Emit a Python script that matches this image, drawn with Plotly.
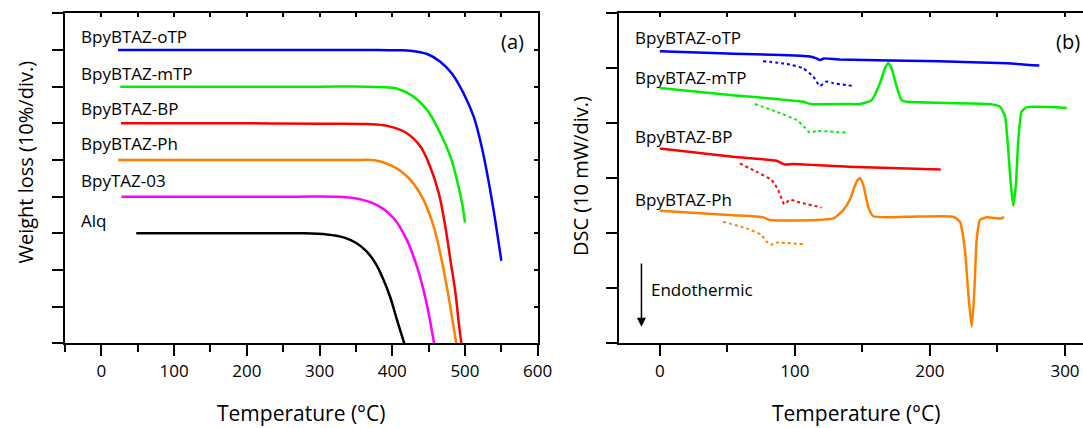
import plotly.graph_objects as go

# ---------------- Panel (a): TGA ----------------
tga_names = ["BpyBTAZ-oTP", "BpyBTAZ-mTP", "BpyBTAZ-BP", "BpyBTAZ-Ph", "BpyTAZ-03", "Alq"]
tga_colors = ["#0000ff", "#00ee00", "#ff0000", "#ff8000", "#ff00ff", "#000000"]
tga_offsets = [-20, -30, -40, -50, -60, -70]  # vertical stacking (10%/div.)

tga_oTP_T = [23, 100, 200, 300, 380, 410, 425, 448, 466, 482, 498, 512, 523, 533, 540, 550]
tga_oTP_W = [100, 100, 100, 100, 100, 99.9, 99.8, 98.9, 96.8, 93.6, 88.2, 81.8, 73.6, 63.6, 55.5, 42.5]
tga_mTP_T = [26, 100, 200, 300, 365, 390, 406, 429, 448, 466, 480, 489, 496, 500]
tga_mTP_W = [100, 100, 100, 100, 100, 99.8, 99.5, 97.3, 93.6, 87.3, 80.9, 74.5, 68.2, 62.9]
tga_BP_T = [27, 100, 200, 300, 365, 393, 420, 439, 452, 464, 473, 480, 487, 491, 495]
tga_BP_W = [100, 100, 100, 99.9, 99.8, 99.3, 97.3, 93.6, 88.2, 80.9, 71.8, 62.7, 53.6, 46.4, 40]
tga_Ph_T = [23, 100, 200, 300, 347, 379, 406, 427, 443, 457, 466, 475, 482, 488]
tga_Ph_W = [100, 100, 100, 100, 100, 99.8, 97.7, 94.1, 89.1, 81.8, 74.5, 65.4, 57.3, 50]
tga_03_T = [27.5, 100, 200, 270, 319, 351, 379, 402, 420, 434, 443, 450, 457.5]
tga_03_W = [100, 100, 100, 100, 100, 99.5, 97.7, 94.1, 88.2, 80.9, 74.5, 68.2, 60]
tga_Alq_T = [48, 100, 170, 230, 274, 310, 333, 351, 365, 377, 386, 397, 406.5, 416.5]
tga_Alq_W = [100, 100, 100, 100, 100, 99.7, 98.9, 97.3, 95.0, 91.8, 88.2, 82.7, 76.4, 70]

tga_T = [tga_oTP_T, tga_mTP_T, tga_BP_T, tga_Ph_T, tga_03_T, tga_Alq_T]
tga_W = [tga_oTP_W, tga_mTP_W, tga_BP_W, tga_Ph_W, tga_03_W, tga_Alq_W]
tga_label_y = [83.8, 73.6, 64.1, 54.4, 44.3, 33.6]

# ---------------- Panel (b): DSC ----------------
dsc_names = ["BpyBTAZ-oTP", "BpyBTAZ-mTP", "BpyBTAZ-BP", "BpyBTAZ-Ph"]
dsc_colors = ["#0000ff", "#00ee00", "#ff0000", "#ff8000"]

dsc_oTP_T = [0, 50, 110, 116, 118.5, 121.5, 133, 207, 257, 281]
dsc_oTP_D = [53.1, 52.7, 52.2, 51.8, 51.5, 51.8, 51.6, 51.3, 50.9, 50.5]
dsc_oTP_cool_T = [76.5, 94, 106, 113.6, 118.5, 123.5, 128.4, 142.7]
dsc_oTP_cool_D = [51.3, 50.8, 50.0, 48.5, 46.8, 47.6, 47.3, 46.8]

dsc_mTP_T = [0, 54, 106, 111.6, 139.5, 148, 156.8, 163, 166.7, 169.1, 171.6, 175.3, 179, 182.7,
             244.4, 251.9, 255.6, 258, 259.8, 261.7, 263.7, 265.4, 267.9, 271.6, 301.2]
dsc_mTP_D = [46.4, 45.1, 43.9, 43.5, 43.5, 43.5, 44.2, 47.3, 50.0, 50.9, 50.0, 46.7, 44.2, 43.9,
             43.5, 43.0, 41.2, 35.1, 29.1, 25.0, 29.1, 37.0, 42.1, 42.9, 42.8]
dsc_mTP_cool_T = [70.4, 86.4, 101.2, 106.7, 111.1, 116, 138.3]
dsc_mTP_cool_D = [43.5, 42.1, 40.6, 39.4, 38.3, 38.6, 38.3]

dsc_BP_T = [0, 54, 86.4, 92.6, 98.8, 139.5, 208]
dsc_BP_D = [35.4, 33.9, 33.2, 32.5, 32.6, 32.1, 31.6]
dsc_BP_cool_T = [59.3, 71.6, 82.7, 87.6, 92.1, 96.3, 103.7, 119.8]
dsc_BP_cool_D = [32.7, 31.2, 29.7, 27.9, 25.3, 26.1, 25.6, 24.7]

dsc_Ph_T = [0, 54, 76.5, 81.5, 116, 128.4, 135.8, 140.7, 145.7, 148.1, 150.6, 154.3, 158, 182.7,
            217.3, 222.2, 225.9, 228.4, 230.9, 232.8, 234.6, 237, 242, 253.1, 254.8]
dsc_Ph_D = [24.1, 23.3, 22.9, 22.4, 22.4, 22.7, 24.2, 26.1, 29.4, 30.0, 28.8, 24.8, 23.1, 23.0,
            23.0, 22.1, 17.0, 9.1, 3.0, 9.1, 18.8, 22.4, 22.9, 22.7, 23.0]
dsc_Ph_cool_T = [46.9, 64.2, 75.3, 79, 82, 86.4, 106.2]
dsc_Ph_cool_D = [22.1, 20.9, 19.7, 18.5, 17.9, 18.3, 18.0]

dsc_T = [dsc_oTP_T, dsc_mTP_T, dsc_BP_T, dsc_Ph_T]
dsc_D = [dsc_oTP_D, dsc_mTP_D, dsc_BP_D, dsc_Ph_D]
dsc_cool_T = [dsc_oTP_cool_T, dsc_mTP_cool_T, dsc_BP_cool_T, dsc_Ph_cool_T]
dsc_cool_D = [dsc_oTP_cool_D, dsc_mTP_cool_D, dsc_BP_cool_D, dsc_Ph_cool_D]
dsc_label_y = [55.6, 48.4, 37.6, 26.2]

FONT = "Open Sans"
fig = go.Figure()

for T, W, off, c in zip(tga_T, tga_W, tga_offsets, tga_colors):
    fig.add_trace(go.Scatter(x=T, y=[w + off for w in W], mode="lines",
                             line=dict(color=c, width=2.5, shape="spline", smoothing=1.0),
                             xaxis="x", yaxis="y", showlegend=False, cliponaxis=True))

for T, D, c in zip(dsc_T, dsc_D, dsc_colors):
    fig.add_trace(go.Scatter(x=T, y=D, mode="lines",
                             line=dict(color=c, width=2.5, shape="spline", smoothing=0.5),
                             xaxis="x2", yaxis="y2", showlegend=False))
for T, D, c in zip(dsc_cool_T, dsc_cool_D, dsc_colors):
    fig.add_trace(go.Scatter(x=T, y=D, mode="lines",
                             line=dict(color=c, width=2, dash="dot", shape="spline", smoothing=0.5),
                             xaxis="x2", yaxis="y2", showlegend=False))

# placeholder traces for mirror axes
fig.add_trace(go.Scatter(x=[None], y=[None], xaxis="x3", yaxis="y3", showlegend=False, hoverinfo="skip"))
fig.add_trace(go.Scatter(x=[None], y=[None], xaxis="x4", yaxis="y2", showlegend=False, hoverinfo="skip"))

ax_common = dict(showline=True, linewidth=2, linecolor="black", showgrid=False, zeroline=False,
                 ticks="outside", tickwidth=2, tickcolor="black", automargin=False,
                 tickfont=dict(family=FONT, size=17, color="black"))

XA_DOM = [65 / 1083, 537.7 / 1083]
XB_DOM = [619.3 / 1083, 1.0]
Y_DOM = [1 - 343.3 / 428, 1 - 13.3 / 428]

mirror_common = dict(ticks="inside", ticklen=4, tickwidth=1.5, tickcolor="black", showticklabels=False,
                     showline=True, linewidth=2, linecolor="black", showgrid=False, zeroline=False,
                     automargin=False)

fig.update_layout(
    width=1083, height=428, autosize=False,
    margin=dict(l=0, r=0, t=0, b=0, pad=0, autoexpand=False),
    paper_bgcolor="white", plot_bgcolor="white",
    xaxis=dict(**ax_common, domain=XA_DOM, range=[-50, 600], tick0=0, dtick=100, ticklen=11,
               minor=dict(ticks="outside", dtick=50, tick0=0, ticklen=7, tickwidth=2, tickcolor="black"),
               anchor="y"),
    yaxis=dict(**ax_common, domain=Y_DOM, range=[0, 90], tick0=0, dtick=10, ticklen=11,
               showticklabels=False, anchor="x"),
    xaxis2=dict(**ax_common, domain=XB_DOM, range=[-30, 313.33], tick0=0, dtick=100, ticklen=11,
                minor=dict(ticks="outside", dtick=50, tick0=0, ticklen=7, tickwidth=2, tickcolor="black"),
                anchor="y2"),
    yaxis2=dict(**ax_common, domain=Y_DOM, range=[0, 60], tick0=0, dtick=10, ticklen=11,
                showticklabels=False, anchor="x2"),
    xaxis3=dict(**mirror_common, overlaying="x", side="top", anchor="y", range=[-50, 600], tick0=0, dtick=50),
    yaxis3=dict(**mirror_common, overlaying="y", side="right", anchor="x", range=[0, 90], tick0=0, dtick=10),
    xaxis4=dict(**mirror_common, overlaying="x2", side="top", anchor="y2", range=[-30, 313.33], tick0=0, dtick=50),
)

annotations = []
for name, ly in zip(tga_names, tga_label_y):
    annotations.append(dict(x=-31.2, y=ly, xref="x", yref="y", text=name, showarrow=False,
                            xanchor="left", yanchor="middle",
                            font=dict(family=FONT, size=17, color="black")))
for name, ly in zip(dsc_names, dsc_label_y):
    annotations.append(dict(x=-19.8, y=ly, xref="x2", yref="y2", text=name, showarrow=False,
                            xanchor="left", yanchor="middle",
                            font=dict(family=FONT, size=17, color="black")))
annotations += [
    dict(x=512 / 1083, y=1 - 41.7 / 428, xref="paper", yref="paper", text="(a)", showarrow=False,
         xanchor="center", yanchor="middle", font=dict(family=FONT, size=20, color="black")),
    dict(x=292.1, y=54.8, xref="x2", yref="y2", text="(b)", showarrow=False,
         xanchor="left", yanchor="middle", font=dict(family=FONT, size=20, color="black")),
    dict(x=-13.6, y=3.0, ax=-13.6, ay=14.8, xref="x2", yref="y2", axref="x2", ayref="y2",
         text="", showarrow=True, arrowhead=2, arrowsize=1.2, arrowwidth=1.5, arrowcolor="black"),
    dict(x=-7.9, y=9.7, xref="x2", yref="y2", text="Endothermic", showarrow=False,
         xanchor="left", yanchor="middle", font=dict(family=FONT, size=17, color="black")),
    dict(x=301 / 1083, y=1 - 413 / 428, xref="paper", yref="paper", text="Temperature (°C)",
         showarrow=False, xanchor="center", yanchor="middle",
         font=dict(family=FONT, size=21, color="black")),
    dict(x=856 / 1083, y=1 - 413 / 428, xref="paper", yref="paper", text="Temperature (°C)",
         showarrow=False, xanchor="center", yanchor="middle",
         font=dict(family=FONT, size=21, color="black")),
    dict(x=25 / 1083, y=1 - 162.5 / 428, xref="paper", yref="paper", text="Weight loss (10%/div.)",
         showarrow=False, xanchor="center", yanchor="middle", textangle=-90,
         font=dict(family=FONT, size=20, color="black")),
    dict(x=580 / 1083, y=1 - 176 / 428, xref="paper", yref="paper", text="DSC (10 mW/div.)",
         showarrow=False, xanchor="center", yanchor="middle", textangle=-90,
         font=dict(family=FONT, size=20, color="black")),
]
fig.update_layout(annotations=annotations)

fig.write_html("out.html")
